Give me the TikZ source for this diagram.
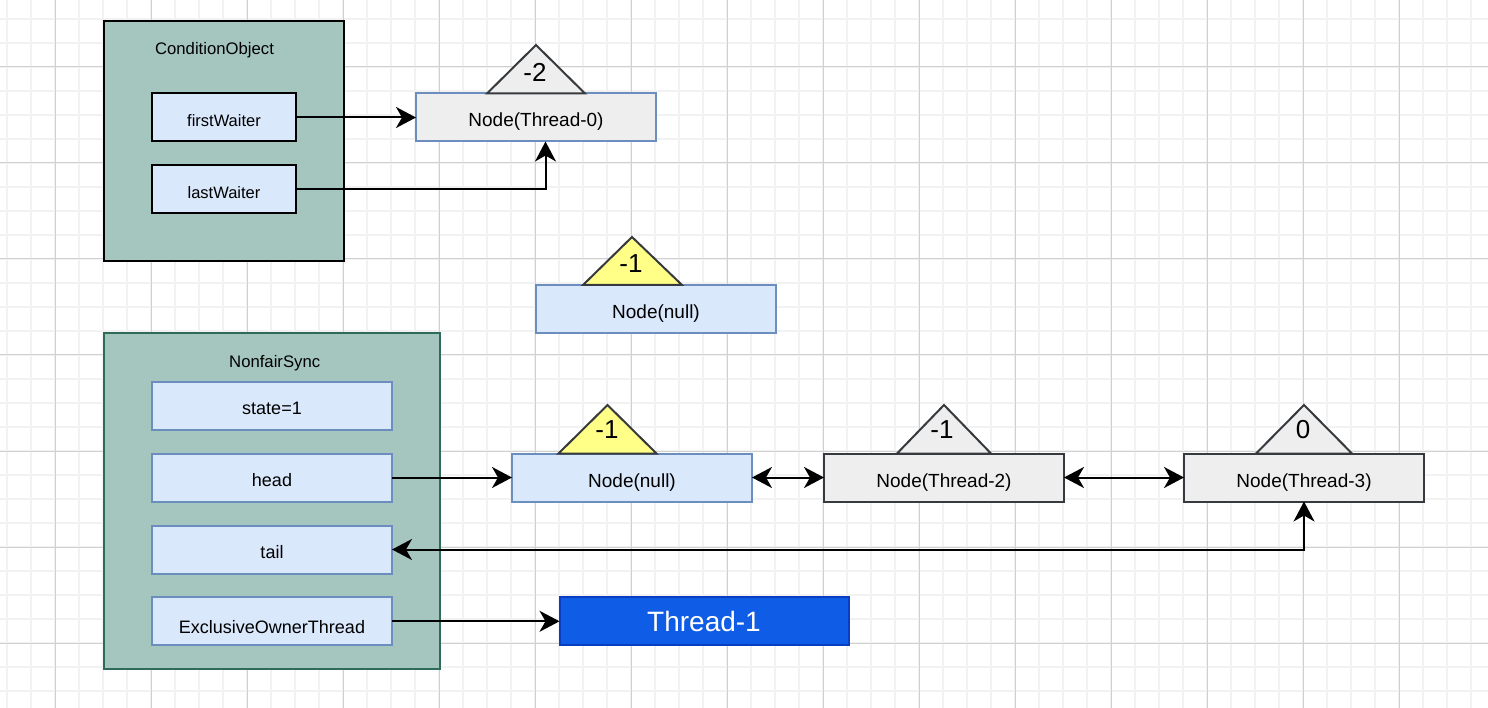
\documentclass[tikz,border=0pt]{standalone}
\usepackage{fontspec}
\setmainfont{Liberation Sans}
\usetikzlibrary{arrows.meta}

\definecolor{gridmin}{HTML}{F2F2F2}
\definecolor{gridmaj}{HTML}{D0D0D0}
\definecolor{teal}{HTML}{A5C6BE}
\definecolor{tealedge}{HTML}{2F6B58}
\definecolor{fieldfill}{HTML}{DAE8FC}
\definecolor{fieldedge}{HTML}{6C8EBF}
\definecolor{grayfill}{HTML}{EEEEEE}
\definecolor{grayedge}{HTML}{36393D}
\definecolor{yellowfill}{HTML}{FFFF88}
\definecolor{ownerfill}{HTML}{0F5CE6}
\definecolor{owneredge}{HTML}{0A3EC2}

\tikzset{
  fs/.style={font=\fontsize{#1}{#1}\selectfont},
  box/.style={rectangle, line width=2pt, inner sep=0pt, outer sep=0pt,
    text depth=0pt, align=center},
  container/.style={box, fill=teal, draw=black},
  field/.style={box, fill=fieldfill, draw=fieldedge, fs=18,
    minimum width=240pt, minimum height=48pt, text height=18.9pt},
  condfield/.style={box, fill=fieldfill, draw=black, fs=16.5,
    minimum width=144pt, minimum height=48pt, text height=17.3pt},
  qnode/.style={box, minimum width=240pt, minimum height=48pt, fs=19, text height=19pt},
  bluenode/.style={qnode, fill=fieldfill, draw=fieldedge},
  graynode/.style={qnode, fill=grayfill, draw=grayedge},
  title/.style={inner sep=0pt, fs=16.7, text height=12pt, text depth=0pt},
  status/.style={inner sep=0pt, fs=26, text height=18.6pt, text depth=0pt},
  flag/.style={line width=2pt, draw=grayedge, line join=miter},
  link/.style={line width=2pt, draw=black,
    -{Stealth[length=20pt, width=21pt, inset=6pt]}},
  dlink/.style={line width=2pt, draw=black,
    {Stealth[length=20pt, width=21pt, inset=6pt]}-{Stealth[length=20pt, width=21pt, inset=6pt]}},
}

\begin{document}
\begin{tikzpicture}[x=1pt, y=-1pt]
  % canvas and background grid
  \useasboundingbox (0,0) rectangle (1488,708);
  \fill[white] (0,0) rectangle (1488,708);
  \foreach \x in {7,31,...,1471} \draw[gridmin, line width=1.5pt] (\x,0) -- (\x,708);
  \foreach \y in {19,43,...,691} \draw[gridmin, line width=1.5pt] (0,\y) -- (1488,\y);
  \foreach \x in {55,151,...,1399} \draw[gridmaj, line width=1pt] (\x,0) -- (\x,708);
  \foreach \y in {67,163,...,643} \draw[gridmaj, line width=1pt] (0,\y) -- (1488,\y);

  % ConditionObject
  \node[container, minimum width=240pt, minimum height=240pt] (co) at (224,141.3) {};
  \node[title] (cotitle) at (214.5,49) {ConditionObject};
  \node[condfield] (fw) at (224,117.5) {firstWaiter};
  \node[condfield] (lw) at (224,189.5) {lastWaiter};

  % waiting node of the condition queue
  \node[qnode, fill=grayfill, draw=fieldedge] (t0) at (536,117.5) {Node(Thread-0)};
  \draw[flag, fill=grayfill] (487,93.5) -- (536,45) -- (585,93.5) -- cycle;
  \node[status] (s0) at (535,72) {-2};

  % detached node
  \node[bluenode] (mn) at (656,309) {Node(null)};
  \draw[flag, fill=yellowfill] (583,285) -- (632,237) -- (682,285) -- cycle;
  \node[status] (sm) at (631,263) {-1};

  % NonfairSync
  \node[container, draw=tealedge, minimum width=336pt, minimum height=336pt] (ns) at (272,501.3) {};
  \node[title] (nstitle) at (274.7,361) {NonfairSync};
  \node[field] (st) at (272,405.5) {state=1};
  \node[field] (hd) at (272,477.5) {head};
  \node[field] (tl) at (272,549.5) {tail};
  \node[field, text height=24.3pt] (eo) at (272,621.3) {ExclusiveOwnerThread};

  % synchronization queue
  \node[bluenode] (rn) at (632,477.5) {Node(null)};
  \draw[flag, fill=yellowfill] (558.5,453.5) -- (607.5,405) -- (656.5,453.5) -- cycle;
  \node[status] (sr) at (607,429) {-1};

  \node[graynode] (t2) at (944,477.5) {Node(Thread-2)};
  \draw[flag, fill=grayfill] (897,453.5) -- (944,405) -- (991,453.5) -- cycle;
  \node[status] (s2) at (942,429) {-1};

  \node[graynode] (t3) at (1304,477.5) {Node(Thread-3)};
  \draw[flag, fill=grayfill] (1256,453.5) -- (1304,405) -- (1352,453.5) -- cycle;
  \node[status] (s3) at (1303,429) {0};

  % owner thread
  \node[box, fill=ownerfill, draw=owneredge, minimum width=289pt, minimum height=48pt,
        text=white, fs=28, text height=20pt] (th1) at (704,621.3) {Thread-1};

  % references
  \draw[link] (fw.east) -- (t0.west);
  \draw[link] (lw.east) -| ([xshift=9.5pt]t0.south);
  \draw[link] (hd.east) -- (rn.west);
  \draw[dlink] (rn.east) -- (t2.west);
  \draw[dlink] (t2.east) -- (t3.west);
  \draw[dlink] (t3.south) |- (tl.east);
  \draw[link] (eo.east) -- (th1.west);
\end{tikzpicture}
\end{document}
